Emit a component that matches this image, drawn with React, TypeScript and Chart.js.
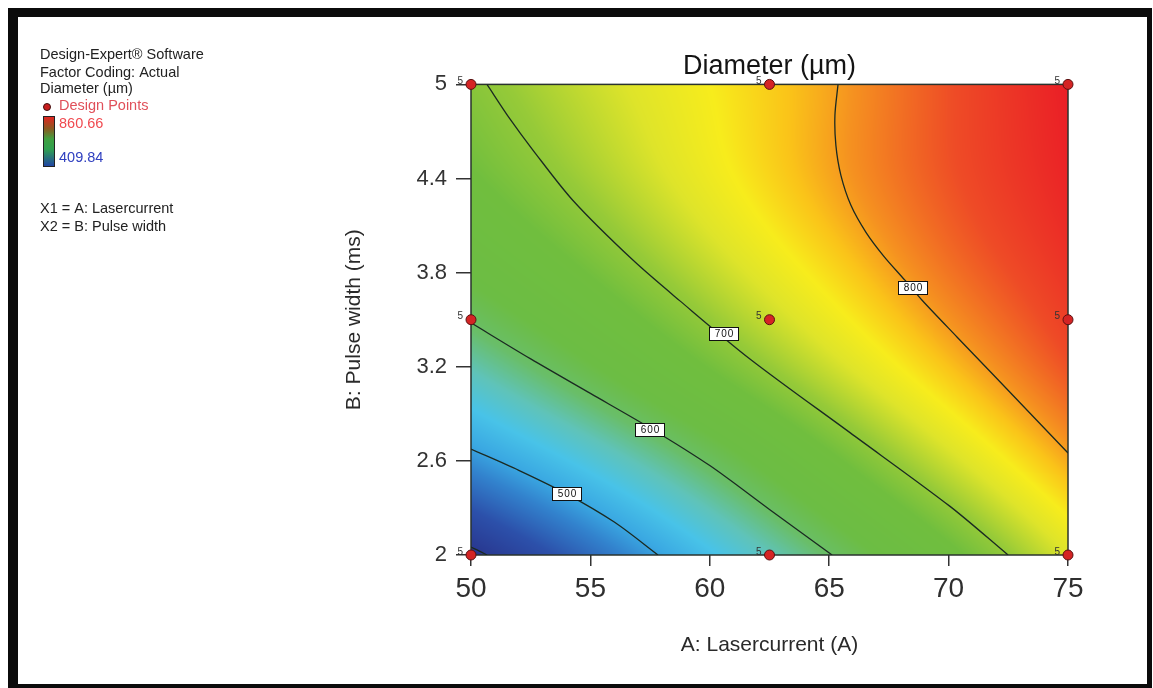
import React, { useEffect, useRef } from "react";
import { Chart, registerables } from "chart.js";

Chart.register(...registerables);

// ---------------- data ----------------
const xTicks = [50, 55, 60, 65, 70, 75];
const yTicks = [2, 2.6, 3.2, 3.8, 4.4, 5];

// response surface: columns A = gridA, one row per B in gridB
const gridA = [50, 55, 60, 65, 70, 75];
const gridB = [2, 2.6, 3.2, 3.8, 4.4, 5];
const diameterAtB20 = [393, 461, 530, 598, 666, 740];
const diameterAtB26 = [489, 545, 604, 668, 732, 795];
const diameterAtB32 = [568, 622, 677, 731, 785, 837];
const diameterAtB38 = [631, 677, 725, 772, 819, 858];
const diameterAtB44 = [672, 712, 754, 796, 836, 870];
const diameterAtB50 = [694, 730, 763, 797, 838, 875];
const diameterRows = [diameterAtB20, diameterAtB26, diameterAtB32, diameterAtB38, diameterAtB44, diameterAtB50];

// contour lines
const contour400A = [50, 50.35, 50.67];
const contour400B = [2.05, 2.025, 2.0];
const contour500A = [50, 52, 54, 56, 57.83];
const contour500B = [2.675, 2.54, 2.39, 2.21, 2.0];
const contour600A = [50, 52.5, 55, 57.5, 60, 62.5, 65.12];
const contour600B = [3.48, 3.25, 3.03, 2.81, 2.57, 2.29, 2.0];
const contour700A = [50.67, 51.63, 52.6, 54.27, 56.78, 58.75, 61.68, 65.87, 70.06, 72.49];
const contour700B = [5.0, 4.78, 4.58, 4.26, 3.88, 3.62, 3.25, 2.78, 2.31, 2.0];
const contour800A = [65.37, 65.24, 65.28, 65.49, 65.91, 66.54, 67.29, 68.17, 68.89, 70.35, 71.8, 73.4, 75];
const contour800B = [5.0, 4.803, 4.611, 4.42, 4.229, 4.057, 3.904, 3.752, 3.624, 3.39, 3.16, 2.905, 2.65];

const labelLevels = [500, 600, 700, 800];
const labelA = [54.0, 57.5, 60.6, 68.5];
const labelB = [2.39, 2.8, 3.41, 3.7];

// design points
const designA = [50, 50, 50, 62.5, 62.5, 62.5, 75, 75, 75];
const designB = [2, 3.5, 5, 2, 3.5, 5, 2, 3.5, 5];
const designRuns = [5, 5, 5, 5, 5, 5, 5, 5, 5];

const responseMin = 409.84;
const responseMax = 860.66;

// ---------------- styles ----------------
const colorStops: [number, number[]][] = [
  [393, [40, 52, 140]],
  [440, [44, 80, 170]],
  [480, [50, 130, 205]],
  [505, [58, 168, 226]],
  [535, [72, 195, 232]],
  [565, [95, 195, 185]],
  [595, [105, 190, 105]],
  [625, [108, 189, 68]],
  [675, [112, 190, 62]],
  [705, [150, 202, 56]],
  [740, [222, 228, 42]],
  [763, [247, 236, 28]],
  [785, [250, 195, 25]],
  [805, [245, 145, 32]],
  [840, [238, 75, 38]],
  [875, [234, 30, 38]],
];

function colorFor(v: number): number[] {
  if (v <= colorStops[0][0]) return colorStops[0][1];
  for (let i = 1; i < colorStops.length; i++) {
    if (v <= colorStops[i][0]) {
      const [v0, c0] = colorStops[i - 1];
      const [v1, c1] = colorStops[i];
      const t = (v - v0) / (v1 - v0);
      return [c0[0] + (c1[0] - c0[0]) * t, c0[1] + (c1[1] - c0[1]) * t, c0[2] + (c1[2] - c0[2]) * t];
    }
  }
  return colorStops[colorStops.length - 1][1];
}

function cr1d(xs: number[], ys: number[], x: number): number {
  const n = xs.length;
  let k = 0;
  while (k < n - 2 && x > xs[k + 1]) k++;
  const p1 = ys[k];
  const p2 = ys[k + 1];
  const p0 = k > 0 ? ys[k - 1] : 2 * p1 - p2;
  const p3 = k + 2 < n ? ys[k + 2] : 2 * p2 - p1;
  let t = (x - xs[k]) / (xs[k + 1] - xs[k]);
  t = Math.max(0, Math.min(1, t));
  return 0.5 * (2 * p1 + (-p0 + p2) * t + (2 * p0 - 5 * p1 + 4 * p2 - p3) * t * t + (-p0 + 3 * p1 - 3 * p2 + p3) * t * t * t);
}

const FONT = "'Liberation Sans', Arial, sans-serif";

const pagePlugin = {
  id: "page",
  beforeDraw(chart: any) {
    const ctx = chart.ctx as CanvasRenderingContext2D;
    ctx.save();
    ctx.fillStyle = "#ffffff";
    ctx.fillRect(0, 0, chart.width, chart.height);
    ctx.fillStyle = "#0b0b0b";
    ctx.fillRect(8, 8, 1144, 9);
    ctx.fillRect(8, 8, 10, 680);
    ctx.fillRect(1147, 8, 5, 680);
    ctx.fillRect(8, 684, 1144, 4);

    // side annotation
    ctx.font = `14.5px ${FONT}`;
    ctx.textAlign = "left";
    ctx.textBaseline = "alphabetic";
    ctx.fillStyle = "#222";
    ctx.fillText("Design-Expert\u00ae Software", 40, 59);
    ctx.fillText("Factor Coding: Actual", 40, 77);
    ctx.fillText("Diameter (\u00b5m)", 40, 93);
    ctx.fillStyle = "#e0505a";
    ctx.fillText("Design Points", 59, 110);
    ctx.beginPath();
    ctx.arc(47, 107, 3.5, 0, Math.PI * 2);
    ctx.fillStyle = "#c81e1e";
    ctx.fill();
    ctx.strokeStyle = "#401010";
    ctx.lineWidth = 1;
    ctx.stroke();
    const g = ctx.createLinearGradient(0, 116, 0, 167);
    g.addColorStop(0, "#e82020");
    g.addColorStop(0.25, "#8a5a20");
    g.addColorStop(0.45, "#40a040");
    g.addColorStop(0.65, "#30a050");
    g.addColorStop(1, "#2040a8");
    ctx.fillStyle = g;
    ctx.fillRect(43, 116, 12, 51);
    ctx.strokeStyle = "#222";
    ctx.strokeRect(43.5, 116.5, 11, 50);
    ctx.fillStyle = "#f04a50";
    ctx.fillText(responseMax.toFixed(2), 59, 128);
    ctx.fillStyle = "#3040c0";
    ctx.fillText(responseMin.toFixed(2), 59, 162);
    ctx.fillStyle = "#222";
    ctx.fillText("X1 = A: Lasercurrent", 40, 213);
    ctx.fillText("X2 = B: Pulse width", 40, 231);
    ctx.restore();
  },
};

const heatmapPlugin = {
  id: "heatmap",
  beforeDatasetsDraw(chart: any) {
    const ctx = chart.ctx as CanvasRenderingContext2D;
    const { chartArea, scales } = chart;
    const x0 = Math.round(chartArea.left);
    const y0 = Math.round(chartArea.top);
    const w = Math.round(chartArea.right) - x0;
    const h = Math.round(chartArea.bottom) - y0;
    const img = ctx.createImageData(w, h);
    const aVals: number[] = [];
    for (let i = 0; i < w; i++) aVals.push(scales.x.getValueForPixel(x0 + i + 0.5));
    for (let j = 0; j < h; j++) {
      const b = scales.y.getValueForPixel(y0 + j + 0.5);
      const col = gridA.map((_, i) => cr1d(gridB, diameterRows.map((r) => r[i]), b));
      for (let i = 0; i < w; i++) {
        const v = cr1d(gridA, col, aVals[i]);
        const c = colorFor(v);
        const o = (j * w + i) * 4;
        img.data[o] = c[0];
        img.data[o + 1] = c[1];
        img.data[o + 2] = c[2];
        img.data[o + 3] = 255;
      }
    }
    ctx.putImageData(img, x0, y0);
    ctx.save();
    ctx.strokeStyle = "#2a332e";
    ctx.lineWidth = 1.5;
    ctx.strokeRect(chartArea.left, chartArea.top, chartArea.right - chartArea.left, chartArea.bottom - chartArea.top);
    ctx.restore();
  },
  afterDatasetsDraw(chart: any) {
    const ctx = chart.ctx as CanvasRenderingContext2D;
    const { scales } = chart;
    ctx.save();
    // contour labels
    ctx.font = `10px ${FONT}`;
    (ctx as any).letterSpacing = "1px";
    ctx.textAlign = "center";
    ctx.textBaseline = "middle";
    labelLevels.forEach((lv, i) => {
      const px = Math.round(scales.x.getPixelForValue(labelA[i]));
      const py = Math.round(scales.y.getPixelForValue(labelB[i]));
      ctx.fillStyle = "#ffffff";
      ctx.fillRect(px - 15, py - 7, 30, 14);
      ctx.strokeStyle = "#111";
      ctx.lineWidth = 1;
      ctx.strokeRect(px - 14.5, py - 6.5, 29, 13);
      ctx.fillStyle = "#111";
      ctx.fillText(String(lv), px + 0.5, py + 0.5);
    });
    (ctx as any).letterSpacing = "0px";
    // replicate counts at design points
    ctx.font = `10px ${FONT}`;
    ctx.textAlign = "right";
    ctx.fillStyle = "#333";
    designA.forEach((a, i) => {
      const px = scales.x.getPixelForValue(a);
      const py = scales.y.getPixelForValue(designB[i]);
      ctx.fillText(String(designRuns[i]), px - 8, py - 3);
    });
    ctx.restore();
  },
};

function contourDataset(as: number[], bs: number[]) {
  return {
    data: as.map((a, i) => ({ x: a, y: bs[i] })),
    showLine: true,
    borderColor: "#1b2a22",
    borderWidth: 1.3,
    pointRadius: 0,
    tension: 0.3,
    fill: false,
    order: 2,
  };
}

export default function App() {
  const ref = useRef<HTMLCanvasElement>(null);
  useEffect(() => {
    const chart = new Chart(ref.current as HTMLCanvasElement, {
      type: "scatter",
      data: {
        datasets: [
          contourDataset(contour400A, contour400B),
          contourDataset(contour500A, contour500B),
          contourDataset(contour600A, contour600B),
          contourDataset(contour700A, contour700B),
          contourDataset(contour800A, contour800B),
          {
            data: designA.map((a, i) => ({ x: a, y: designB[i] })),
            pointRadius: 5,
            pointBackgroundColor: "#d42424",
            pointBorderColor: "#5a1212",
            pointBorderWidth: 1,
            clip: false,
            order: 0,
          } as any,
        ],
      },
      options: {
        animation: false,
        responsive: false,
        devicePixelRatio: 1,
        events: [],
        layout: { padding: { left: 0, right: 85, top: 0, bottom: 0 } },
        plugins: {
          legend: { display: false },
          tooltip: { enabled: false },
          title: {
            display: true,
            text: "Diameter (\u00b5m)",
            fullSize: false,
            color: "#141414",
            font: { family: FONT, size: 27, weight: "normal" },
            padding: { top: 50, bottom: 2 },
          },
        },
        scales: {
          x: {
            type: "linear",
            min: 50,
            max: 75,
            afterBuildTicks: (s: any) => {
              s.ticks = xTicks.map((v) => ({ value: v }));
            },
            afterFit: (s: any) => {
              s.height = 133;
            },
            ticks: {
              autoSkip: false,
              maxRotation: 0,
              padding: 6,
              color: "#2f2f2f",
              font: { family: FONT, size: 28 },
              callback: (v: any) => String(v),
            },
            grid: { drawOnChartArea: false, drawTicks: true, tickLength: 11, color: "#333", lineWidth: 1.5 },
            border: { display: false },
            title: {
              display: true,
              text: "A: Lasercurrent (A)",
              color: "#2a2a2a",
              font: { family: FONT, size: 21 },
              padding: { top: 0, bottom: 30 },
            },
          },
          y: {
            type: "linear",
            min: 2,
            max: 5,
            afterBuildTicks: (s: any) => {
              s.ticks = yTicks.map((v) => ({ value: v }));
            },
            afterFit: (s: any) => {
              s.width = 471;
            },
            ticks: {
              autoSkip: false,
              padding: 9,
              color: "#333",
              font: { family: FONT, size: 22 },
              callback: (v: any) => String(v),
            },
            grid: { drawOnChartArea: false, drawTicks: true, tickLength: 15, color: "#333", lineWidth: 1.5 },
            border: { display: false },
            title: {
              display: true,
              text: "B: Pulse width (ms)",
              color: "#2a2a2a",
              font: { family: FONT, size: 21 },
              padding: { top: 342, bottom: 0 },
            },
          },
        },
      },
      plugins: [pagePlugin, heatmapPlugin],
    } as any);
    return () => chart.destroy();
  }, []);
  return (
    <div style={{ position: "absolute", left: 0, top: 0, width: 1153, height: 688 }}>
      <canvas ref={ref} width={1153} height={688} style={{ display: "block", width: 1153, height: 688 }} />
    </div>
  );
}
